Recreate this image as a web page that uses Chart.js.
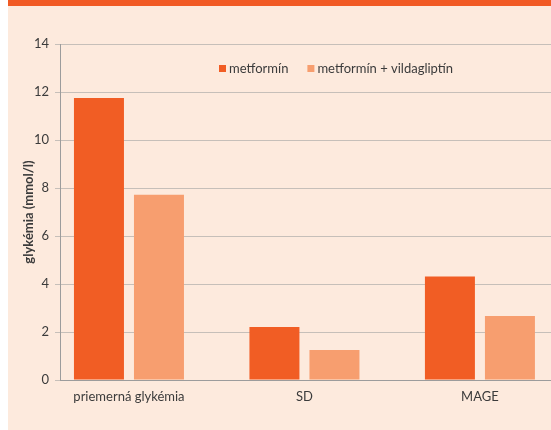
<!DOCTYPE html>
<html>
<head>
<meta charset="utf-8">
<script src="https://cdn.jsdelivr.net/npm/chart.js@4/dist/chart.umd.min.js"></script>
<style>
    body { margin: 0; background: #ffffff; }
    .g-panel {
        position: absolute; left: 8px; top: 0;
        width: 543px; height: 424px;
        border-top: 6px solid #F15A24;
        background: #FDEADD;
    }
    .g-panel canvas { display: block; }
</style>
</head>
<body>
<div class="g-panel">
    <canvas id="glyk-chart" width="543" height="424"></canvas>
</div>

<script>(function() { "use strict";

    // values
    var categories = ['priemerná glykémia', 'SD', 'MAGE'];
    var series_names = ['metformín', 'metformín + vildagliptín'];
    var metformin = [11.75, 2.21, 4.31];
    var metformin_vilda = [7.72, 1.25, 2.67];
    var y_ticks = [0, 2, 4, 6, 8, 10, 12, 14];

    var text_color = '#3b3b3b';
    var font_family = 'Lato, "Open Sans", sans-serif';

    function points(values) {
        return values.map(function (v, i) { return { x: i, y: v }; });
    }

    // legend sits inside the plot, so it is drawn here instead of the built-in one
    var inside_legend = {
        id: 'insideLegend',
        afterDraw: function (chart, args, opts) {
            var ctx = chart.ctx,
                x = opts.x;
            ctx.save();
            ctx.font = opts.fontSize + 'px ' + font_family;
            ctx.textBaseline = 'middle';
            ctx.textAlign = 'left';
            chart.data.datasets.forEach(function (ds) {
                ctx.fillStyle = ds.backgroundColor;
                ctx.fillRect(x, opts.y - opts.box / 2, opts.box, opts.box);
                x += opts.box + opts.boxGap;
                ctx.fillStyle = text_color;
                ctx.fillText(ds.label, x, opts.y);
                x += ctx.measureText(ds.label).width + opts.itemGap;
            });
            ctx.restore();
        }
    };

    var glyk_chart = new Chart(document.getElementById('glyk-chart'), {
        type: 'bar',
        data: {
            datasets: [{
                label: series_names[0],
                data: points(metformin),
                backgroundColor: '#F15D24'
            }, {
                label: series_names[1],
                data: points(metformin_vilda),
                backgroundColor: '#F79E6F'
            }]
        },
        plugins: [inside_legend],
        options: {
            responsive: false,
            animation: false,
            categoryPercentage: 0.684,
            barPercentage: 0.833,
            layout: {
                padding: { top: 38, right: 0, bottom: 0, left: 0 }
            },
            plugins: {
                legend: { display: false },
                tooltip: { enabled: false },
                insideLegend: {
                    x: 211, y: 62.5, box: 7, boxGap: 3, itemGap: 19, fontSize: 13
                }
            },
            scales: {
                x: {
                    type: 'linear',
                    offset: false,
                    min: -0.393,
                    max: 2.405,
                    afterBuildTicks: function (scale) {
                        scale.ticks = categories.map(function (c, i) { return { value: i }; });
                    },
                    afterFit: function (scale) { scale.height = 50; },
                    grid: { display: false, drawTicks: false },
                    border: { color: '#9c9c9c', width: 1, z: 1 },
                    ticks: {
                        padding: 9,
                        color: text_color,
                        font: { family: font_family, size: 13 },
                        callback: function (v) { return categories[v]; }
                    }
                },
                y: {
                    min: 0,
                    max: 14,
                    afterBuildTicks: function (scale) {
                        scale.ticks = y_ticks.map(function (v) { return { value: v }; });
                    },
                    afterFit: function (scale) { scale.width = 52; },
                    grid: { color: '#C6BFB9', lineWidth: 1, tickLength: 5 },
                    border: { color: '#9c9c9c', width: 1 },
                    ticks: {
                        padding: 6,
                        color: text_color,
                        font: { family: font_family, size: 13 }
                    },
                    title: {
                        display: true,
                        text: 'glykémia (mmol/l)',
                        color: text_color,
                        padding: { top: 13, bottom: 0 },
                        font: { family: font_family, size: 13, weight: 'bold' }
                    }
                }
            }
        }
    });

})();</script>
</body>
</html>
